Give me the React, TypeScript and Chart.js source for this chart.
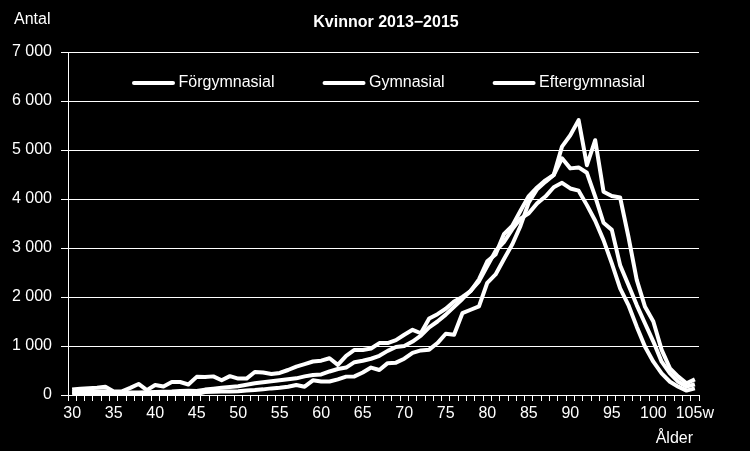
import React, { useEffect, useRef } from "react";
import { Chart, registerables } from "chart.js";

Chart.register(...registerables);

const titleText = "Kvinnor 2013−2015";
const yAxisTitle = "Antal";
const xAxisTitle = "Ålder";

const ageLabels = [
  "30", "31", "32", "33", "34", "35", "36", "37", "38", "39",
  "40", "41", "42", "43", "44", "45", "46", "47", "48", "49",
  "50", "51", "52", "53", "54", "55", "56", "57", "58", "59",
  "60", "61", "62", "63", "64", "65", "66", "67", "68", "69",
  "70", "71", "72", "73", "74", "75", "76", "77", "78", "79",
  "80", "81", "82", "83", "84", "85", "86", "87", "88", "89",
  "90", "91", "92", "93", "94", "95", "96", "97", "98", "99",
  "100", "101", "102", "103", "104", "105w",
];

const seriesNames = ["Förgymnasial", "Gymnasial", "Eftergymnasial"];

const forgymnasial = [
  30, 30, 35, 35, 35, 20, 20, 25, 25, 25,
  30, 30, 30, 30, 30, 20, 60, 65, 70, 70,
  75, 90, 100, 115, 135, 150, 170, 205, 170, 300,
  275, 275, 320, 375, 380, 460, 560, 510, 650, 660,
  740, 860, 910, 925, 1060, 1250, 1230, 1670, 1740, 1810,
  2290, 2460, 2770, 3070, 3450, 3930, 4200, 4350, 4490, 5070,
  5300, 5610, 4690, 5200, 4150, 4060, 4030, 3230, 2350, 1800,
  1500, 920, 545, 375, 240, 320,
];

const gymnasial = [
  110, 130, 140, 150, 170, 70, 75, 145, 225, 100,
  205, 175, 265, 265, 215, 370, 365, 380, 300, 385,
  335, 335, 470, 460, 430, 450, 510, 580, 630, 683,
  700, 750, 615, 800, 920, 920, 950, 1060, 1060, 1120,
  1230, 1330, 1260, 1560, 1650, 1760, 1910, 2000, 2120, 2360,
  2730, 2870, 3280, 3450, 3760, 4060, 4235, 4380, 4490, 4830,
  4625, 4645, 4535, 4050, 3515, 3370, 2650, 2245, 1835, 1460,
  1090, 680, 440, 270, 170, 220,
];

const eftergymnasial = [
  60, 65, 70, 70, 75, 40, 45, 50, 50, 55,
  60, 65, 70, 80, 85, 80, 110, 130, 150, 165,
  180, 210, 240, 260, 280, 300, 320, 340, 380, 410,
  420, 480, 530, 560, 670, 700, 740, 800, 900, 980,
  1000, 1090, 1210, 1380, 1500, 1640, 1800, 1960, 2130, 2320,
  2630, 2940, 3120, 3380, 3600, 3710, 3910, 4050, 4240, 4330,
  4215, 4170, 3875, 3555, 3160, 2685, 2175, 1835, 1395, 985,
  680, 440, 270, 170, 90, 135,
];

const FONT = '"Liberation Sans", Arial, Helvetica, sans-serif';

const overlayPlugin = {
  id: "overlay",
  beforeDraw(chart: any) {
    const ctx = chart.ctx;
    ctx.save();
    ctx.fillStyle = "#000";
    ctx.fillRect(0, 0, chart.width, chart.height);
    ctx.restore();
  },
  afterDraw(chart: any) {
    const ctx = chart.ctx;
    ctx.save();
    ctx.fillStyle = "#fff";
    ctx.textBaseline = "middle";
    ctx.font = `bold 16px ${FONT}`;
    ctx.textAlign = "center";
    ctx.fillText(titleText, 386, 23);
    ctx.font = `16px ${FONT}`;
    ctx.textAlign = "left";
    ctx.fillText(yAxisTitle, 14, 20);
    ctx.textAlign = "right";
    ctx.fillText(xAxisTitle, 693, 439);

    // legend inside plot area
    ctx.textAlign = "left";
    let x = 134;
    const y = 83;
    chart.data.datasets.forEach((ds: any) => {
      ctx.strokeStyle = "#fff";
      ctx.lineWidth = 4;
      ctx.lineCap = "round";
      ctx.beginPath();
      ctx.moveTo(x, y);
      ctx.lineTo(x + 39, y);
      ctx.stroke();
      x += 39 + 5.5;
      ctx.fillText(ds.label, x, y);
      x += ctx.measureText(ds.label).width + 50;
    });
    ctx.restore();
  },
};

function formatThousands(v: number): string {
  const s = String(Math.round(v));
  return s.replace(/\B(?=(\d{3})+(?!\d))/g, " ");
}

export default function App() {
  const canvasRef = useRef<HTMLCanvasElement | null>(null);

  useEffect(() => {
    document.body.style.margin = "0";
    document.body.style.background = "#000";
    const canvas = canvasRef.current;
    if (!canvas) return;
    const series = [forgymnasial, gymnasial, eftergymnasial];
    const chart = new Chart(canvas, {
      type: "line",
      data: {
        labels: ageLabels,
        datasets: series.map((d, i) => ({
          label: seriesNames[i],
          data: d,
          borderColor: "#fff",
          backgroundColor: "#fff",
          borderWidth: 4,
          pointRadius: 0,
          tension: 0,
          borderJoinStyle: "round" as const,
        })),
      },
      options: {
        animation: false,
        responsive: false,
        devicePixelRatio: 1,
        layout: { padding: { top: 52, right: 51, left: 0, bottom: 0 } },
        plugins: {
          legend: { display: false },
          title: { display: false },
          tooltip: { enabled: false },
        },
        scales: {
          x: {
            type: "category",
            offset: true,
            afterFit: (scale: any) => {
              scale.height = 56;
            },
            grid: {
              offset: true,
              drawOnChartArea: false,
              drawTicks: true,
              tickLength: 6,
              color: "#fff",
              lineWidth: 1,
            },
            border: { display: true, color: "#fff", width: 1 },
            ticks: {
              autoSkip: false,
              maxRotation: 0,
              minRotation: 0,
              padding: 3,
              color: "#fff",
              font: { family: FONT, size: 16 },
              callback: (_v: any, i: number) => (i % 5 === 0 ? ageLabels[i] : ""),
            },
          },
          y: {
            min: 0,
            max: 7000,
            afterFit: (scale: any) => {
              scale.width = 68;
            },
            grid: {
              color: "#fff",
              lineWidth: 1,
              drawTicks: true,
              tickLength: 7,
            },
            border: { display: true, color: "#fff", width: 1 },
            ticks: {
              stepSize: 1000,
              padding: 9,
              color: "#fff",
              font: { family: FONT, size: 16 },
              callback: (v: any) => formatThousands(Number(v)),
            },
          },
        },
      },
      plugins: [overlayPlugin],
    });
    return () => chart.destroy();
  }, []);

  return (
    <div style={{ width: 750, height: 451, background: "#000" }}>
      <canvas ref={canvasRef} width={750} height={451} style={{ display: "block" }} />
    </div>
  );
}
